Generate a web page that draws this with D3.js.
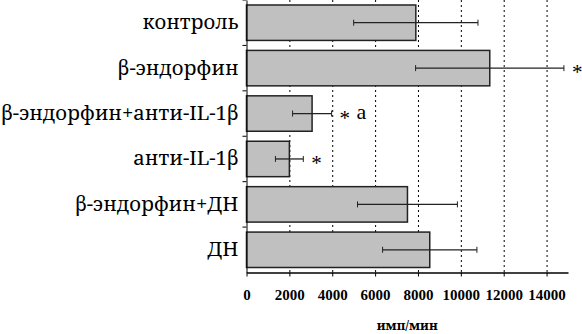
<!DOCTYPE html>
<html>
<head>
<meta charset="utf-8">
<script src="https://cdn.jsdelivr.net/npm/d3@7"></script>
<style>
  body { margin: 0; background: #fff; }
  svg { display: block; }
</style>
</head>
<body>
<div id="chart"></div>
<script>
// groups, top to bottom
let categories = ["контроль", "β-эндорфин", "β-эндорфин+анти-IL-1β", "анти-IL-1β", "β-эндорфин+ДН", "ДН"];
let means = [7900, 11350, 3060, 2000, 7510, 8550];
let errors = [2900, 3460, 910, 650, 2330, 2200];
let stars = ["", "*", "*", "*", "", ""];
let letters = ["", "", "a", "", "", ""];
let xTicks = [0, 2000, 4000, 6000, 8000, 10000, 12000, 14000];
let xTitle = "имп/мин";

let width = 582, height = 334;
let margin = {top: 0, left: 246.5, right: 14, bottom: 61.5};
let serif = '"Liberation Serif", serif';
// cyrillic text needs a serif face that actually has the glyphs
let cyrSerif = '"Noto Serif", "DejaVu Serif", serif';

let svg = d3.select("#chart")
    .append("svg")
    .attr("width", width)
    .attr("height", height);

let x = d3.scaleLinear()
    .domain([0, 15000])
    .range([margin.left, width - margin.right]);

let y = d3.scaleBand()
    .domain(categories)
    .range([margin.top, height - margin.bottom])
    .paddingInner(0.22)
    .paddingOuter(0.11);

let data = categories.map((c, i) => ({cat: c, mean: means[i], err: errors[i], star: stars[i], letter: letters[i]}));
let mid = d => y(d.cat) + y.bandwidth() / 2;

// dotted gridlines
svg.append("g")
    .selectAll("line")
    .data(xTicks.filter(d => d > 0))
    .enter()
    .append("line")
    .attr("x1", d => x(d) + 0.5)
    .attr("x2", d => x(d) + 0.5)
    .attr("y1", margin.top)
    .attr("y2", height - margin.bottom)
    .attr("stroke", "#000")
    .attr("stroke-width", 1)
    .attr("stroke-dasharray", "2,3");

// bars
svg.append("g")
    .selectAll("rect")
    .data(data)
    .enter()
    .append("rect")
    .attr("x", x(0))
    .attr("y", d => y(d.cat))
    .attr("width", d => x(d.mean) - x(0))
    .attr("height", y.bandwidth())
    .attr("fill", "#c0c0c0")
    .attr("stroke", "#222")
    .attr("stroke-width", 1.5);

// error bars
let eb = svg.append("g")
    .selectAll("g")
    .data(data)
    .enter()
    .append("g")
    .attr("stroke", "#222")
    .attr("stroke-width", 1.3);

eb.append("line")
    .attr("x1", d => x(d.mean - d.err))
    .attr("x2", d => x(d.mean + d.err))
    .attr("y1", mid)
    .attr("y2", mid);

[-1, 1].forEach(s => {
    eb.append("line")
        .attr("x1", d => x(d.mean + s * d.err))
        .attr("x2", d => x(d.mean + s * d.err))
        .attr("y1", d => mid(d) - 3)
        .attr("y2", d => mid(d) + 3)
        .attr("stroke-width", 1);
});

// significance marks: star centred on the error bar, letter on a normal baseline
svg.append("g")
    .selectAll("text")
    .data(data.filter(d => d.star))
    .enter()
    .append("text")
    .attr("x", d => x(d.mean + d.err) + 8)
    .attr("y", d => mid(d) + 11)
    .style("font-family", serif)
    .style("font-size", "21px")
    .attr("fill", "#000")
    .text(d => d.star);

svg.append("g")
    .selectAll("text")
    .data(data.filter(d => d.letter))
    .enter()
    .append("text")
    .attr("x", d => x(d.mean + d.err) + 25)
    .attr("y", d => mid(d) + 5)
    .style("font-family", serif)
    .style("font-size", "22px")
    .attr("fill", "#000")
    .text(d => d.letter);

// x axis
let xAxis = svg.append("g")
    .attr("transform", `translate(0, ${height - margin.bottom})`)
    .call(d3.axisBottom(x).tickValues(xTicks).tickSize(4).tickSizeOuter(0).tickPadding(13).tickFormat(d3.format("d")));

xAxis.select(".domain").attr("stroke", "#000").attr("stroke-width", 1.3);
xAxis.selectAll(".tick line").attr("stroke", "#000");
xAxis.selectAll("text")
    .style("font-family", serif)
    .style("font-weight", "bold")
    .style("font-size", "15px")
    .attr("fill", "#000");

// y axis
let yAxis = svg.append("g")
    .attr("transform", `translate(${margin.left}, 0)`)
    .call(d3.axisLeft(y).tickSize(0).tickPadding(8));

yAxis.select(".domain").attr("stroke", "#000").attr("stroke-width", 1);
let yLabels = yAxis.selectAll("text")
    .style("font-family", cyrSerif)
    .style("font-size", "20px")
    .attr("fill", "#000");

// fit the longest label to the space left of the axis
let longest = d3.max(yLabels.nodes(), n => n.getComputedTextLength());
let fs = 20 * (margin.left - 9) / longest;
yLabels.style("font-size", fs + "px");

// small ticks between groups on the y axis
let bounds = d3.range(categories.length).map(i => margin.top + i * y.step() + y.step() * y.paddingOuter() - y.step() * y.paddingInner() / 2);
svg.append("g")
    .selectAll("line")
    .data(bounds)
    .enter()
    .append("line")
    .attr("x1", margin.left - 4)
    .attr("x2", margin.left)
    .attr("y1", d => d)
    .attr("y2", d => d)
    .attr("stroke", "#000");

// axis title
svg.append("text")
    .attr("x", (x(0) + x(15000)) / 2)
    .attr("y", height - 4.5)
    .attr("text-anchor", "middle")
    .style("font-family", cyrSerif)
    .style("font-weight", "bold")
    .style("font-size", "13px")
    .attr("fill", "#000")
    .text(xTitle);
</script>
</body>
</html>
